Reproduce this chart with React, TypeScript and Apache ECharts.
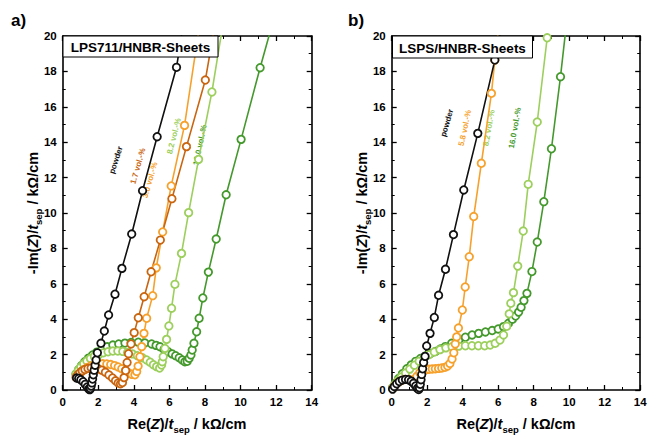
import React, { useEffect, useRef } from "react";
import * as echarts from "echarts";

const FONT = '"Liberation Sans", Arial, Helvetica, sans-serif';

// x-axis tick labels & y-axis tick labels
const xTicks = [0, 2, 4, 6, 8, 10, 12, 14];
const yTicks = [0, 2, 4, 6, 8, 10, 12, 14, 16, 18, 20];

// Panel a) LPS711/HNBR-Sheets  [Re(Z)/t, -Im(Z)/t]
const aPowder = [[0.78,0.68],[0.9,0.65],[1.02,0.58],[1.15,0.47],[1.27,0.32],[1.38,0.17],[1.46,0.06],[1.52,0.02],[1.56,0.08],[1.6,0.22],[1.64,0.4],[1.68,0.62],[1.72,0.86],[1.77,1.12],[1.82,1.4],[1.88,1.7],[1.95,2.1],[2.15,2.64],[2.34,3.33],[2.58,4.24],[2.94,5.41],[3.33,6.87],[3.88,8.81],[4.49,11.26],[5.31,14.31],[6.4,18.23],[6.72,20.3]];
const a17 = [[0.75,0.72],[0.85,0.86],[0.97,0.98],[1.1,1.08],[1.25,1.16],[1.42,1.22],[1.6,1.25],[1.8,1.24],[2.0,1.2],[2.2,1.12],[2.4,1.0],[2.6,0.85],[2.8,0.68],[2.97,0.52],[3.12,0.4],[3.25,0.35],[3.36,0.42],[3.45,0.7],[3.54,1.1],[3.62,1.55],[3.7,2.05],[3.84,2.6],[4.02,3.24],[4.25,4.08],[4.58,5.27],[4.97,6.68],[5.49,8.47],[6.14,10.81],[6.96,13.75],[8.02,17.51],[8.5,20.3]];
const a30 = [[0.8,0.78],[0.92,0.92],[1.05,1.05],[1.2,1.16],[1.38,1.27],[1.58,1.36],[1.8,1.42],[2.02,1.46],[2.25,1.48],[2.48,1.47],[2.7,1.44],[2.92,1.38],[3.12,1.3],[3.32,1.2],[3.52,1.08],[3.72,0.96],[3.9,0.88],[4.06,0.86],[4.16,1.05],[4.24,1.35],[4.34,1.88],[4.44,2.45],[4.57,3.2],[4.72,4.05],[5.06,5.33],[5.26,6.9],[5.62,8.93],[6.1,11.53],[6.85,14.95],[7.65,20.3]];
const a82 = [[0.75,0.92],[0.88,1.12],[1.02,1.3],[1.18,1.48],[1.36,1.64],[1.56,1.78],[1.78,1.9],[2.02,2.0],[2.28,2.1],[2.55,2.16],[2.82,2.2],[3.1,2.2],[3.38,2.18],[3.65,2.12],[3.92,2.04],[4.2,1.94],[4.48,1.82],[4.72,1.7],[4.92,1.57],[5.1,1.43],[5.28,1.32],[5.45,1.24],[5.56,1.41],[5.6,1.6],[5.65,1.88],[5.75,2.35],[5.84,2.86],[5.97,3.62],[6.12,4.62],[6.31,5.97],[6.68,7.72],[7.08,10.02],[7.64,13.03],[8.39,16.84],[8.95,20.3]];
const a160 = [[0.75,0.9],[0.9,1.15],[1.06,1.38],[1.24,1.6],[1.45,1.8],[1.68,1.98],[1.92,2.14],[2.2,2.3],[2.5,2.44],[2.82,2.54],[3.15,2.6],[3.5,2.65],[3.85,2.68],[4.25,2.7],[4.62,2.66],[5.0,2.6],[5.25,2.52],[5.47,2.44],[5.7,2.3],[5.93,2.16],[6.15,2.04],[6.35,1.94],[6.55,1.82],[6.72,1.7],[6.87,1.6],[7.0,1.62],[7.11,1.79],[7.21,1.98],[7.28,2.26],[7.38,2.64],[7.53,3.29],[7.67,4.05],[7.88,5.2],[8.19,6.66],[8.63,8.53],[9.19,11.03],[10.03,14.16],[11.1,18.21],[11.68,20.3]];

// Panel b) LSPS/HNBR-Sheets
const bPowder = [[0.05,0.05],[0.15,0.2],[0.28,0.35],[0.43,0.48],[0.6,0.56],[0.78,0.6],[0.95,0.58],[1.1,0.5],[1.23,0.38],[1.35,0.23],[1.45,0.1],[1.52,0.03],[1.57,0.12],[1.61,0.32],[1.65,0.58],[1.69,0.88],[1.74,1.2],[1.8,1.55],[1.88,1.9],[1.97,2.49],[2.16,3.2],[2.4,4.1],[2.64,5.35],[3.03,6.82],[3.48,8.78],[4.06,11.3],[4.85,14.5],[5.81,18.64],[6.15,20.3]];
const b58 = [[0.05,0.08],[0.18,0.25],[0.35,0.42],[0.55,0.54],[0.75,0.6],[0.95,0.6],[1.12,0.55],[1.28,0.6],[1.42,0.78],[1.58,0.97],[1.75,1.08],[1.92,1.14],[2.1,1.17],[2.28,1.19],[2.46,1.2],[2.64,1.22],[2.82,1.24],[3.0,1.28],[3.15,1.36],[3.28,1.5],[3.4,1.75],[3.5,2.1],[3.58,2.6],[3.66,3.0],[3.76,3.5],[3.98,4.52],[4.14,5.82],[4.37,7.53],[4.62,9.8],[5.05,12.81],[5.62,16.76],[5.81,18.64],[6.0,20.3]];
const b82 = [[0.05,0.1],[0.18,0.3],[0.35,0.52],[0.55,0.74],[0.78,0.96],[1.02,1.18],[1.28,1.4],[1.55,1.62],[1.82,1.82],[2.1,2.0],[2.4,2.15],[2.72,2.28],[3.05,2.38],[3.4,2.44],[3.78,2.48],[4.15,2.5],[4.52,2.5],[4.88,2.5],[5.24,2.5],[5.55,2.54],[5.83,2.64],[6.1,2.82],[6.3,3.11],[6.48,3.6],[6.62,4.3],[6.71,4.9],[6.86,5.5],[7.1,7.0],[7.41,8.98],[7.69,11.62],[8.2,15.14],[8.76,19.9],[8.9,20.5]];
const b160 = [[0.05,0.12],[0.2,0.38],[0.39,0.65],[0.6,0.92],[0.85,1.2],[1.1,1.42],[1.35,1.62],[1.62,1.78],[1.9,1.92],[2.18,2.06],[2.46,2.18],[2.74,2.32],[3.02,2.45],[3.38,2.64],[3.78,2.82],[4.15,2.98],[4.53,3.11],[4.9,3.2],[5.28,3.28],[5.66,3.36],[6.0,3.45],[6.3,3.58],[6.58,3.77],[6.8,4.0],[6.98,4.18],[7.15,4.4],[7.29,4.67],[7.45,5.05],[7.62,5.46],[7.9,6.69],[8.2,8.36],[8.57,10.64],[9.0,13.63],[9.51,17.7],[9.8,20.3]];

const C_BLACK = "#111111";
const C_DORANGE = "#c9650f";
const C_ORANGE = "#f6a12c";
const C_LGREEN = "#9ccf5c";
const C_DGREEN = "#44992c";

const GRIDS = [
  { left: 62.7, top: 36, width: 249, height: 354 },
  { left: 391.7, top: 36, width: 248.5, height: 354 },
];

function xAx(gridIndex: number, top: boolean) {
  return {
    type: "value",
    gridIndex,
    position: top ? "top" : "bottom",
    min: xTicks[0],
    max: xTicks[xTicks.length - 1],
    interval: 2,
    axisLine: { show: true, onZero: false, lineStyle: { color: "#000", width: 1.6 } },
    axisTick: { show: true, inside: true, length: 5, lineStyle: { color: "#000", width: 1.3 } },
    minorTick: { show: true, splitNumber: 2, length: 3, lineStyle: { color: "#000", width: 1 } },
    splitLine: { show: false },
    axisLabel: top
      ? { show: false }
      : { show: true, margin: 6, color: "#000", fontSize: 11.5, fontWeight: "bold", fontFamily: FONT },
  };
}
function yAx(gridIndex: number, right: boolean) {
  return {
    type: "value",
    gridIndex,
    position: right ? "right" : "left",
    min: yTicks[0],
    max: yTicks[yTicks.length - 1],
    interval: 2,
    axisLine: { show: true, onZero: false, lineStyle: { color: "#000", width: 1.6 } },
    axisTick: { show: true, inside: true, length: 5, lineStyle: { color: "#000", width: 1.3 } },
    minorTick: { show: true, splitNumber: 2, length: 3, lineStyle: { color: "#000", width: 1 } },
    splitLine: { show: false },
    axisLabel: right
      ? { show: false }
      : { show: true, margin: 6, color: "#000", fontSize: 11.5, fontWeight: "bold", fontFamily: FONT },
  };
}

function ser(data: number[][], color: string, xi: number, yi: number) {
  return {
    type: "line",
    data,
    xAxisIndex: xi,
    yAxisIndex: yi,
    symbol: "circle",
    symbolSize: 7.5,
    clip: true,
    lineStyle: { color, width: 1.6 },
    itemStyle: { color: "#ffffff", borderColor: color, borderWidth: 1.8 },
    z: 3,
  };
}

const richTitle = {
  n: { fontSize: 14.5, fontWeight: "bold", fontFamily: FONT, fill: "#000", lineHeight: 20, verticalAlign: "middle" },
  i: { fontSize: 14.5, fontWeight: "bold", fontStyle: "italic", fontFamily: FONT, fill: "#000", lineHeight: 20, verticalAlign: "middle" },
  s: { fontSize: 9.5, fontWeight: "bold", fontFamily: FONT, fill: "#000", lineHeight: 20, verticalAlign: "bottom", padding: [0, 0, 0, 0] },
};

function axisTitle(x: number, y: number, text: string, rotate: boolean) {
  return {
    type: "text",
    x,
    y,
    rotation: rotate ? Math.PI / 2 : 0,
    z: 10,
    style: { text, rich: richTitle, align: "center", verticalAlign: "middle" },
  };
}

function legendBox(x: number, y: number, w: number, h: number, text: string) {
  return {
    type: "group",
    z: 100,
    children: [
      { type: "rect", shape: { x, y, width: w, height: h }, style: { fill: "#fff", stroke: "#000", lineWidth: 1 }, z: 100 },
      {
        type: "text",
        x: x + w / 2,
        y: y + h / 2 + 1,
        z: 101,
        style: { text, fill: "#000", font: `bold 13.5px ${FONT}`, align: "center", verticalAlign: "middle" },
      },
    ],
  };
}

function note(x: number, y: number, text: string, color: string, deg: number) {
  return {
    type: "text",
    x,
    y,
    rotation: (deg * Math.PI) / 180,
    z: 1,
    style: { text, fill: color, font: `bold 8px ${FONT}`, align: "center", verticalAlign: "middle" },
  };
}

export default function App() {
  const ref = useRef<HTMLDivElement>(null);
  useEffect(() => {
    if (!ref.current) return;
    const chart = echarts.init(ref.current, null, { renderer: "svg" });
    const option = {
      animation: false,
      backgroundColor: "#fff",
      grid: GRIDS.map((g) => ({ ...g, containLabel: false })),
      xAxis: [xAx(0, false), xAx(0, true), xAx(1, false), xAx(1, true)],
      yAxis: [yAx(0, false), yAx(0, true), yAx(1, false), yAx(1, true)],
      series: [
        ser(a160, C_DGREEN, 0, 0),
        ser(a82, C_LGREEN, 0, 0),
        ser(a30, C_ORANGE, 0, 0),
        ser(a17, C_DORANGE, 0, 0),
        ser(aPowder, C_BLACK, 0, 0),
        ser(b160, C_DGREEN, 2, 2),
        ser(b82, C_LGREEN, 2, 2),
        ser(b58, C_ORANGE, 2, 2),
        ser(bPowder, C_BLACK, 2, 2),
      ],
      graphic: [
        { type: "text", x: 11, y: 20, z: 10, style: { text: "a)", fill: "#000", font: `bold 17px ${FONT}`, verticalAlign: "middle" } },
        { type: "text", x: 348, y: 20, z: 10, style: { text: "b)", fill: "#000", font: `bold 17px ${FONT}`, verticalAlign: "middle" } },
        axisTitle(33, 213, "{n|-Im(}{i|Z}{n|)/}{i|t}{s|sep}{n| / kΩ/cm}", true),
        axisTitle(362, 213, "{n|-Im(}{i|Z}{n|)/}{i|t}{s|sep}{n| / kΩ/cm}", true),
        axisTitle(187, 424, "{n|Re(}{i|Z}{n|)/}{i|t}{s|sep}{n| / kΩ/cm}", false),
        axisTitle(516, 424, "{n|Re(}{i|Z}{n|)/}{i|t}{s|sep}{n| / kΩ/cm}", false),
        legendBox(63, 36, 155, 21, "LPS711/HNBR-Sheets"),
        legendBox(392.5, 36, 140, 22, "LSPS/HNBR-Sheets"),
        note(116, 160, "powder", C_BLACK, 72),
        note(138, 166, "1.7 vol.-%", C_DORANGE, 74),
        note(150, 180, "3.0 vol.-%", C_ORANGE, 74),
        note(174, 136, "8.2 vol.-%", C_LGREEN, 76),
        note(200, 145, "16.0 vol.-%", C_DGREEN, 78),
        note(447, 123, "powder", C_BLACK, 74),
        note(465, 128, "5.8 vol.-%", C_ORANGE, 78),
        note(489, 128, "8.2 vol.-%", C_LGREEN, 80),
        note(515, 128, "16.0 vol.-%", C_DGREEN, 80),
      ],
    };
    chart.setOption(option as any);
    return () => chart.dispose();
  }, []);
  return <div ref={ref} style={{ width: 650, height: 435, position: "absolute", left: 0, top: 0 }} />;
}
